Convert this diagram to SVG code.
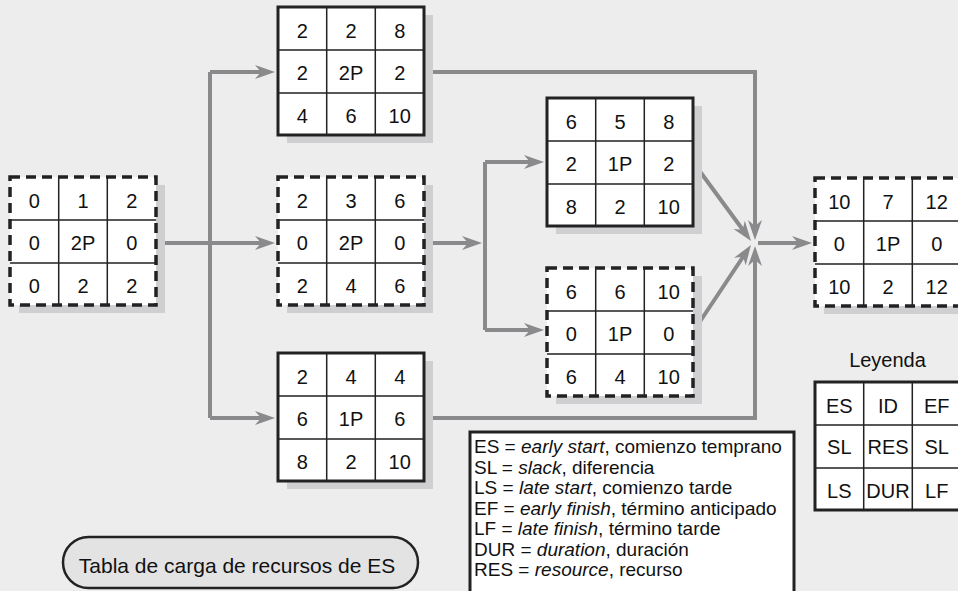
<svg xmlns="http://www.w3.org/2000/svg" width="958" height="591" viewBox="0 0 958 591">
<defs>
<style>
.sh{fill:#cfcfd1}
.box{fill:#fff}
.grid{stroke:#222;stroke-width:1.5;fill:none}
.solid{fill:none;stroke:#222;stroke-width:3}
.dash{fill:none;stroke:#222;stroke-width:3.5;stroke-dasharray:10 6}
.t{font-family:"Liberation Sans",Arial,sans-serif;font-size:20px;fill:#111;text-anchor:middle}
.c{fill:none;stroke:#8a8a8c;stroke-width:4}
.a{marker-end:url(#arr)}
.lg{font-family:"Liberation Sans",Arial,sans-serif;font-size:19px;fill:#111}
</style>
<marker id="arr" markerUnits="userSpaceOnUse" markerWidth="22" markerHeight="16" refX="8" refY="7" orient="auto" viewBox="0 0 22 16">
<path d="M0,0 L20,7 L0,14 L6,7 Z" fill="#8a8a8c"/>
</marker>
</defs>
<rect width="958" height="591" fill="#ededed"/>

<g id="connectors">
<path class="c a" d="M155,243 H263"/>
<path class="c" d="M210,72 V418"/>
<path class="c a" d="M210,72 H263"/>
<path class="c a" d="M210,418 H263"/>
<path class="c a" d="M424,243 H470"/>
<path class="c" d="M485,162 V330"/>
<path class="c a" d="M485,162 H532"/>
<path class="c a" d="M485,330 H532"/>
<path class="c a" d="M424,72 H755 V228"/>
<path class="c a" d="M424,418 H755 V258"/>
<path class="c a" d="M693,162 L743.9,231.3"/>
<path class="c a" d="M693,332 L744.3,255"/>
<path class="c a" d="M758,243 H800"/>
</g>

<g id="nodeA" transform="translate(10,177)">
<rect class="sh" x="9" y="8" width="146" height="128"/>
<rect class="box" width="146" height="128"/>
<path class="grid" d="M48.7,0V128M97.3,0V128M0,43H146M0,86H146"/>
<rect class="dash" width="146" height="128"/>
<text class="t" x="24.3" y="31">0</text><text class="t" x="73" y="31">1</text><text class="t" x="121.7" y="31">2</text>
<text class="t" x="24.3" y="73">0</text><text class="t" x="73" y="73">2P</text><text class="t" x="121.7" y="73">0</text>
<text class="t" x="24.3" y="115.5">0</text><text class="t" x="73" y="115.5">2</text><text class="t" x="121.7" y="115.5">2</text>
</g>

<g id="nodeB" transform="translate(278,7)">
<rect class="sh" x="9" y="8" width="146" height="128"/>
<rect class="box" width="146" height="128"/>
<path class="grid" d="M48.7,0V128M97.3,0V128M0,43H146M0,86H146"/>
<rect class="solid" width="146" height="128"/>
<text class="t" x="24.3" y="31">2</text><text class="t" x="73" y="31">2</text><text class="t" x="121.7" y="31">8</text>
<text class="t" x="24.3" y="73">2</text><text class="t" x="73" y="73">2P</text><text class="t" x="121.7" y="73">2</text>
<text class="t" x="24.3" y="115.5">4</text><text class="t" x="73" y="115.5">6</text><text class="t" x="121.7" y="115.5">10</text>
</g>

<g id="nodeC" transform="translate(278,177)">
<rect class="sh" x="9" y="8" width="146" height="128"/>
<rect class="box" width="146" height="128"/>
<path class="grid" d="M48.7,0V128M97.3,0V128M0,43H146M0,86H146"/>
<rect class="dash" width="146" height="128"/>
<text class="t" x="24.3" y="31">2</text><text class="t" x="73" y="31">3</text><text class="t" x="121.7" y="31">6</text>
<text class="t" x="24.3" y="73">0</text><text class="t" x="73" y="73">2P</text><text class="t" x="121.7" y="73">0</text>
<text class="t" x="24.3" y="115.5">2</text><text class="t" x="73" y="115.5">4</text><text class="t" x="121.7" y="115.5">6</text>
</g>

<g id="nodeD" transform="translate(278,353)">
<rect class="sh" x="9" y="8" width="146" height="128"/>
<rect class="box" width="146" height="128"/>
<path class="grid" d="M48.7,0V128M97.3,0V128M0,43H146M0,86H146"/>
<rect class="solid" width="146" height="128"/>
<text class="t" x="24.3" y="31">2</text><text class="t" x="73" y="31">4</text><text class="t" x="121.7" y="31">4</text>
<text class="t" x="24.3" y="73">6</text><text class="t" x="73" y="73">1P</text><text class="t" x="121.7" y="73">6</text>
<text class="t" x="24.3" y="115.5">8</text><text class="t" x="73" y="115.5">2</text><text class="t" x="121.7" y="115.5">10</text>
</g>

<g id="nodeE" transform="translate(547,98)">
<rect class="sh" x="9" y="8" width="146" height="128"/>
<rect class="box" width="146" height="128"/>
<path class="grid" d="M48.7,0V128M97.3,0V128M0,43H146M0,86H146"/>
<rect class="solid" width="146" height="128"/>
<text class="t" x="24.3" y="31">6</text><text class="t" x="73" y="31">5</text><text class="t" x="121.7" y="31">8</text>
<text class="t" x="24.3" y="73">2</text><text class="t" x="73" y="73">1P</text><text class="t" x="121.7" y="73">2</text>
<text class="t" x="24.3" y="115.5">8</text><text class="t" x="73" y="115.5">2</text><text class="t" x="121.7" y="115.5">10</text>
</g>

<g id="nodeF" transform="translate(547,268)">
<rect class="sh" x="9" y="8" width="146" height="128"/>
<rect class="box" width="146" height="128"/>
<path class="grid" d="M48.7,0V128M97.3,0V128M0,43H146M0,86H146"/>
<rect class="dash" width="146" height="128"/>
<text class="t" x="24.3" y="31">6</text><text class="t" x="73" y="31">6</text><text class="t" x="121.7" y="31">10</text>
<text class="t" x="24.3" y="73">0</text><text class="t" x="73" y="73">1P</text><text class="t" x="121.7" y="73">0</text>
<text class="t" x="24.3" y="115.5">6</text><text class="t" x="73" y="115.5">4</text><text class="t" x="121.7" y="115.5">10</text>
</g>

<g id="nodeG" transform="translate(815,178)">
<rect class="sh" x="9" y="8" width="146" height="128"/>
<rect class="box" width="146" height="128"/>
<path class="grid" d="M48.7,0V128M97.3,0V128M0,43H146M0,86H146"/>
<rect class="dash" width="146" height="128"/>
<text class="t" x="24.3" y="31">10</text><text class="t" x="73" y="31">7</text><text class="t" x="121.7" y="31">12</text>
<text class="t" x="24.3" y="73">0</text><text class="t" x="73" y="73">1P</text><text class="t" x="121.7" y="73">0</text>
<text class="t" x="24.3" y="115.5">10</text><text class="t" x="73" y="115.5">2</text><text class="t" x="121.7" y="115.5">12</text>
</g>

<g id="legend">
<text class="t" x="887.5" y="367">Leyenda</text>
<g transform="translate(815,382)">
<rect class="box" width="146" height="128"/>
<path class="grid" d="M48.7,0V128M97.3,0V128M0,43H146M0,86H146"/>
<rect class="solid" width="146" height="128"/>
<text class="t" x="24.3" y="31">ES</text><text class="t" x="73" y="31">ID</text><text class="t" x="121.7" y="31">EF</text>
<text class="t" x="24.3" y="72">SL</text><text class="t" x="73" y="72">RES</text><text class="t" x="121.7" y="72">SL</text>
<text class="t" x="24.3" y="116">LS</text><text class="t" x="73" y="116">DUR</text><text class="t" x="121.7" y="116">LF</text>
</g>
</g>

<g id="abbreviations">
<rect x="470" y="432" width="324" height="175" fill="#fff" stroke="#222" stroke-width="3"/>
<text class="lg" x="474" y="453">ES = <tspan font-style="italic">early start</tspan>, comienzo temprano</text>
<text class="lg" x="474" y="473.5">SL = <tspan font-style="italic">slack</tspan>, diferencia</text>
<text class="lg" x="474" y="494">LS = <tspan font-style="italic">late start</tspan>, comienzo tarde</text>
<text class="lg" x="474" y="514.5">EF = <tspan font-style="italic">early finish</tspan>, término anticipado</text>
<text class="lg" x="474" y="535">LF = <tspan font-style="italic">late finish</tspan>, término tarde</text>
<text class="lg" x="474" y="555.5">DUR = <tspan font-style="italic">duration</tspan>, duración</text>
<text class="lg" x="474" y="576">RES = <tspan font-style="italic">resource</tspan>, recurso</text>
</g>

<g id="title">
<rect x="63" y="537" width="355" height="51" rx="25.5" ry="25.5" fill="#e3e3e4" stroke="#222" stroke-width="2.5"/>
<text class="t" x="237" y="573" style="font-size:21px">Tabla de carga de recursos de ES</text>
</g>
</svg>
